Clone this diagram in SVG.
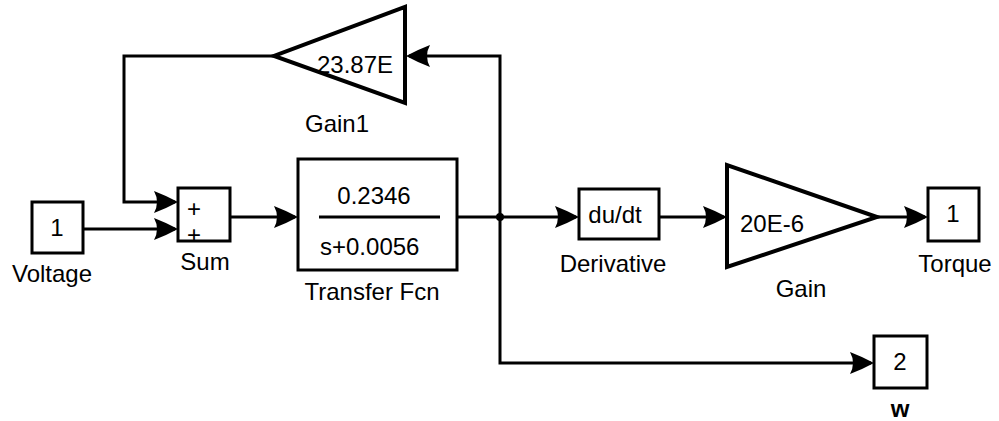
<svg xmlns="http://www.w3.org/2000/svg" width="999" height="421" viewBox="0 0 999 421">
<style>
.blk{fill:#fff;stroke:#000;stroke-width:3}
.tri{fill:#fff;stroke:#000;stroke-width:4;stroke-linejoin:miter}
.ln{fill:none;stroke:#000;stroke-width:3}
text{font-family:"Liberation Sans",Arial,Helvetica,sans-serif;font-size:24px;fill:#000}
.c{text-anchor:middle}
</style>
<defs>
<marker id="ah" markerUnits="userSpaceOnUse" viewBox="0 0 24 22" refX="21" refY="11" markerWidth="24" markerHeight="22" orient="auto">
<path d="M0,0 Q13,5 24,11 Q13,17 0,22 Q6,11 0,0 Z" fill="#000"/>
</marker>
<clipPath id="sumclip"><rect x="179" y="189" width="50" height="51"/></clipPath>
</defs>
<g id="connectors">
<path class="ln" d="M83,229 H175" marker-end="url(#ah)"/>
<path class="ln" d="M230,217 H295" marker-end="url(#ah)"/>
<path class="ln" d="M457,217 H500"/>
<path class="ln" d="M500,217 H576" marker-end="url(#ah)"/>
<path class="ln" d="M659,217 H724" marker-end="url(#ah)"/>
<path class="ln" d="M877,217 H925" marker-end="url(#ah)"/>
<path class="ln" d="M500,217 V56 H409" marker-end="url(#ah)"/>
<path class="ln" d="M500,217 V363 H871" marker-end="url(#ah)"/>
<path class="ln" d="M274,56 H124 V202 H175" marker-end="url(#ah)"/>
<circle cx="500" cy="217" r="4" fill="#000"/>
</g>
<g id="voltage">
<rect class="blk" x="32" y="202" width="51" height="51"/>
<text class="c" x="57" y="236">1</text>
<text class="c" x="52" y="282">Voltage</text>
</g>
<g id="sum">
<rect class="blk" x="178" y="188" width="52" height="53"/>
<g clip-path="url(#sumclip)">
<text class="c" x="194" y="217">+</text>
<text class="c" x="194" y="243">+</text>
</g>
<text class="c" x="205" y="270">Sum</text>
</g>
<g id="transfer-fcn">
<rect class="blk" x="298" y="159" width="159" height="111"/>
<line x1="319" y1="217" x2="440" y2="217" stroke="#000" stroke-width="3"/>
<text class="c" x="374" y="204">0.2346</text>
<text x="320" y="255">s+0.0056</text>
<text class="c" x="372" y="300">Transfer Fcn</text>
</g>
<g id="gain1">
<polygon class="tri" points="405,7 405,103 274,56"/>
<text x="317" y="73">23.87E</text>
<text class="c" x="337" y="132">Gain1</text>
</g>
<g id="derivative">
<rect class="blk" x="579" y="189" width="80" height="50"/>
<text class="c" x="615" y="223">du/dt</text>
<text class="c" x="613" y="272">Derivative</text>
</g>
<g id="gain">
<polygon class="tri" points="727,165 727,267 877,217"/>
<text x="740" y="232">20E-6</text>
<text class="c" x="801" y="297">Gain</text>
</g>
<g id="torque">
<rect class="blk" x="928" y="188" width="51" height="53"/>
<text class="c" x="953" y="222">1</text>
<text class="c" x="955" y="272">Torque</text>
</g>
<g id="w">
<rect class="blk" x="874" y="336" width="53" height="52"/>
<text class="c" x="900" y="370">2</text>
<text class="c" x="900" y="417" font-weight="bold">w</text>
</g>
</svg>
